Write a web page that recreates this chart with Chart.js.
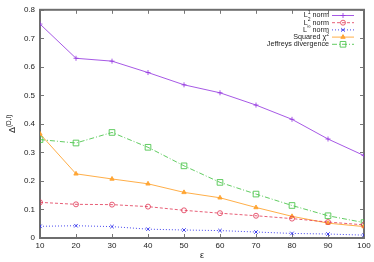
<!DOCTYPE html>
<html>
<head>
<meta charset="utf-8">
<script src="https://cdn.jsdelivr.net/npm/chart.js@4.4.1/dist/chart.umd.min.js"></script>
<style>
  html, body { margin: 0; padding: 0; background: #fff; }
  #wrap { width: 374px; height: 262px; }
</style>
</head>
<body>
<div id="wrap"><canvas id="c" width="374" height="262"></canvas></div>
<script>
// ---- data ----
const epsilon = [10, 20, 30, 40, 50, 60, 70, 80, 90, 100];
const l1Norm   = [0.75, 0.63, 0.62, 0.58, 0.537, 0.509, 0.466, 0.416, 0.347, 0.289];
const l2Norm   = [0.125, 0.118, 0.117, 0.110, 0.097, 0.087, 0.078, 0.068, 0.056, 0.046];
const lInfNorm = [0.041, 0.043, 0.040, 0.031, 0.028, 0.026, 0.021, 0.016, 0.014, 0.010];
const chiSq    = [0.365, 0.225, 0.207, 0.190, 0.160, 0.141, 0.107, 0.076, 0.052, 0.040];
const jeffreys = [0.345, 0.333, 0.370, 0.318, 0.253, 0.195, 0.154, 0.114, 0.078, 0.054];
const seriesLabels = ['L^1 norm', 'L^2 norm', 'L^\u221e norm', 'Squared \u03c7^2', 'Jeffreys divergence'];
const yTicks = [0, 0.1, 0.2, 0.3, 0.4, 0.5, 0.6, 0.7, 0.8];
const xTicks = [10, 20, 30, 40, 50, 60, 70, 80, 90, 100];

const FONT = '"Liberation Sans", Arial, sans-serif';

function pts(vals) {
  return vals.map((v, i) => ({ x: epsilon[i], y: v }));
}

function series(label, vals, color, dash, style, radius, fillPt) {
  return {
    label: label,
    data: pts(vals),
    borderColor: color,
    backgroundColor: color,
    borderWidth: 1,
    borderDash: dash,
    pointStyle: style,
    pointRadius: radius,
    pointBorderColor: color,
    pointBackgroundColor: fillPt ? color : 'rgba(0,0,0,0)',
    pointBorderWidth: 1,
    tension: 0,
    fill: false
  };
}

// text with "^x" superscripts
function supWidth(ctx, parts, size) {
  let w = 0;
  parts.forEach(p => {
    ctx.font = (p.sup ? size * 0.7 : size) + 'px ' + FONT;
    w += ctx.measureText(p.t).width;
  });
  return w;
}
function splitSup(s) {
  const parts = [];
  let buf = '';
  for (let i = 0; i < s.length; i++) {
    if (s[i] === '^') {
      if (buf) parts.push({ t: buf, sup: false });
      buf = '';
      parts.push({ t: s[i + 1], sup: true });
      i++;
    } else buf += s[i];
  }
  if (buf) parts.push({ t: buf, sup: false });
  return parts;
}
function drawSup(ctx, parts, x, y, size) {
  ctx.textAlign = 'left';
  ctx.textBaseline = 'middle';
  parts.forEach(p => {
    ctx.font = (p.sup ? size * 0.7 : size) + 'px ' + FONT;
    ctx.fillText(p.t, x, p.sup ? y - size * 0.4 : y);
    x += ctx.measureText(p.t).width;
  });
}

const framePlugin = {
  id: 'frame',
  beforeDatasetsDraw(chart) {
    const { ctx, chartArea: a, scales } = chart;
    ctx.save();
    ctx.strokeStyle = '#777';
    ctx.lineWidth = 1;
    ctx.beginPath();
    xTicks.forEach(t => {
      const px = Math.round(scales.x.getPixelForValue(t)) + 0.5;
      ctx.moveTo(px, a.bottom); ctx.lineTo(px, a.bottom - 4);
      ctx.moveTo(px, a.top); ctx.lineTo(px, a.top + 4);
    });
    yTicks.forEach(t => {
      const py = Math.round(scales.y.getPixelForValue(t)) + 0.5;
      ctx.moveTo(a.left, py); ctx.lineTo(a.left + 4, py);
      ctx.moveTo(a.right, py); ctx.lineTo(a.right - 4, py);
    });
    ctx.stroke();
    ctx.lineWidth = 2;
    ctx.strokeStyle = '#6e6e6e';
    ctx.strokeRect(a.left, a.top, a.right - a.left, a.bottom - a.top);
    ctx.restore();
  },
  afterDraw(chart) {
    const { ctx, chartArea: a } = chart;
    ctx.save();
    ctx.fillStyle = '#222';
    // x title
    ctx.font = '9px ' + FONT;
    ctx.textAlign = 'center';
    ctx.textBaseline = 'middle';
    ctx.fillText('\u03b5', (a.left + a.right) / 2, 256);
    // y title
    ctx.save();
    ctx.translate(13, (a.top + a.bottom) / 2);
    ctx.rotate(-Math.PI / 2);
    const yParts = [{ t: '\u0394', sup: false }, { t: '(D,I)', sup: true }];
    const yw = supWidth(ctx, yParts, 9);
    drawSup(ctx, yParts, -yw / 2, 0, 9);
    ctx.restore();
    // legend
    const textRight = 329, lineL = 332, lineR = 354;
    chart.data.datasets.forEach((ds, i) => {
      const y = 15.5 + i * 7.2;
      const parts = splitSup(seriesLabels[i]);
      const w = supWidth(ctx, parts, 7.2);
      ctx.fillStyle = '#222';
      drawSup(ctx, parts, textRight - w, y, 7.2);
      ctx.strokeStyle = ds.borderColor;
      ctx.lineWidth = 1;
      ctx.setLineDash(ds.borderDash || []);
      ctx.beginPath();
      ctx.moveTo(lineL, y); ctx.lineTo(lineR, y);
      ctx.stroke();
      ctx.setLineDash([]);
      ctx.fillStyle = ds.pointBackgroundColor;
      Chart.helpers.drawPoint(ctx, {
        pointStyle: ds.pointStyle, radius: ds.pointRadius, rotation: 0, borderWidth: 1
      }, (lineL + lineR) / 2, y);
    });
    ctx.restore();
  }
};

new Chart(document.getElementById('c'), {
  type: 'line',
  data: {
    datasets: [
      series(seriesLabels[0], l1Norm,   'rgba(150,60,225,0.85)', [],     'cross',    2.5, false),
      series(seriesLabels[1], l2Norm,   'rgba(225,55,85,0.8)',   [3, 2], 'circle',   2.5, false),
      series(seriesLabels[2], lInfNorm, 'rgba(40,40,235,0.85)',  [1, 2], 'crossRot', 2.5, false),
      series(seriesLabels[3], chiSq,    'rgba(255,160,40,0.85)', [],     'triangle', 2.5, true),
      series(seriesLabels[4], jeffreys, 'rgba(70,195,70,0.85)',  [5, 2, 1, 2], 'rect', 4, false)
    ]
  },
  options: {
    responsive: false,
    animation: false,
    layout: { padding: { left: 0, right: 10, top: 9, bottom: 0 } },
    plugins: { legend: { display: false }, tooltip: { enabled: false } },
    scales: {
      x: {
        type: 'linear', min: 10, max: 100,
        grid: { display: false, drawTicks: false },
        border: { display: false },
        afterBuildTicks: s => { s.ticks = xTicks.map(v => ({ value: v })); },
        afterFit: s => { s.height = 24; },
        ticks: { padding: 3, color: '#222', font: { family: FONT, size: 8 }, maxRotation: 0 }
      },
      y: {
        type: 'linear', min: 0, max: 0.8,
        grid: { display: false, drawTicks: false },
        border: { display: false },
        afterBuildTicks: s => { s.ticks = yTicks.map(v => ({ value: v })); },
        afterFit: s => { s.width = 40; },
        ticks: { padding: 5, color: '#222', font: { family: FONT, size: 8 },
                 callback: v => String(+v.toFixed(1)) }
      }
    }
  },
  plugins: [framePlugin]
});
</script>
</body>
</html>
